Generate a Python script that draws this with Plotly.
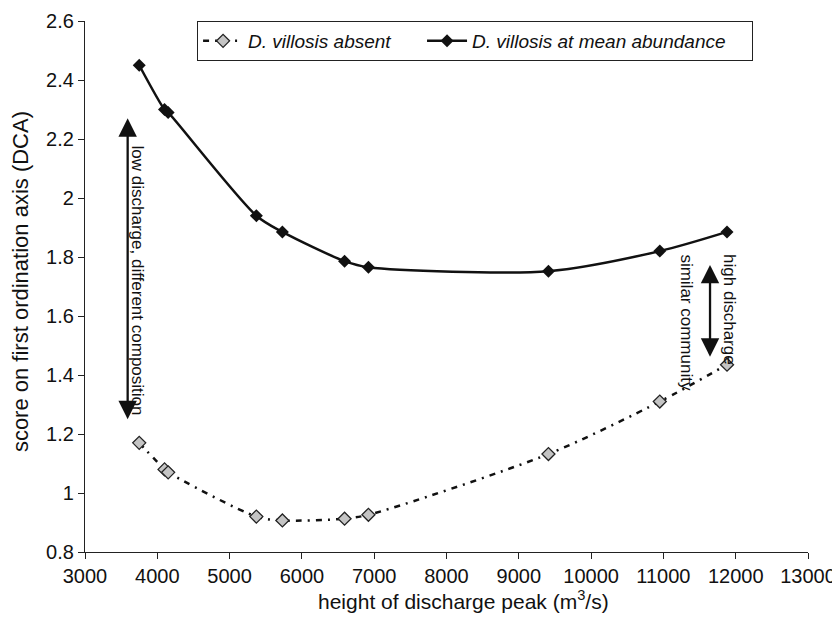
import plotly.graph_objects as go

# ---- data ----
discharge = [3750, 4100, 4150, 5370, 5730, 6590, 6920, 9410, 10950, 11880]
score_absent = [1.17, 1.08, 1.07, 0.92, 0.907, 0.913, 0.926, 1.132, 1.31, 1.435]
score_mean = [2.45, 2.30, 2.29, 1.94, 1.885, 1.786, 1.765, 1.752, 1.82, 1.885]

name_absent = "<i>D. villosis absent</i>" + "\u00a0" * 5
name_mean = "<i>D. villosis at mean abundance</i>" + "\u00a0" * 4

x_ticks = list(range(3000, 13001, 1000))
x_tick_text = [str(v) for v in x_ticks]
y_ticks = [0.8, 1.0, 1.2, 1.4, 1.6, 1.8, 2.0, 2.2, 2.4, 2.6]
y_tick_text = ["0.8", "1", "1.2", "1.4", "1.6", "1.8", "2", "2.2", "2.4", "2.6"]

x_title = "height of discharge peak (m<sup>3</sup>/s)"
y_title = "score on first ordination axis (DCA)"

FONT = "Liberation Sans, Arial, Helvetica, sans-serif"

fig = go.Figure()
fig.add_trace(go.Scatter(
    x=discharge, y=score_absent, name=name_absent, mode="lines+markers",
    line=dict(color="#111111", width=2.5, dash="6px,6px,2px,6px", shape="spline", smoothing=0.8),
    marker=dict(symbol="diamond", size=10, color="#c4c4c4",
                line=dict(color="#222222", width=1.3)),
))
fig.add_trace(go.Scatter(
    x=discharge, y=score_mean, name=name_mean, mode="lines+markers",
    line=dict(color="#111111", width=2.5, shape="spline", smoothing=0.8),
    marker=dict(symbol="diamond", size=10, color="#111111"),
))

# double headed arrows
arrows = [
    (3590, 2.27, 1.245),
    (11645, 1.773, 1.457),
]
for ax_x, y_top, y_bot in arrows:
    fig.add_annotation(
        x=ax_x, y=y_top, ax=ax_x, ay=y_bot, xref="x", yref="y", axref="x", ayref="y",
        text="", showarrow=True, arrowhead=2, arrowside="end+start",
        arrowsize=1.6, arrowwidth=2.3, arrowcolor="#111111",
    )

fig.add_annotation(x=3720, y=1.72, text="low discharge, different composition",
                   showarrow=False, textangle=90,
                   font=dict(family=FONT, size=17, color="#111111"))
fig.add_annotation(x=11326, y=1.575, text="similar community",
                   showarrow=False, textangle=90,
                   font=dict(family=FONT, size=17, color="#111111"))
fig.add_annotation(x=11921, y=1.62, text="high discharge",
                   showarrow=False, textangle=90,
                   font=dict(family=FONT, size=17, color="#111111"))

# axis titles
fig.add_annotation(xref="paper", yref="paper", x=0.524, y=-0.0906,
                   xanchor="center", yanchor="middle", showarrow=False,
                   text=x_title, font=dict(family=FONT, size=21, color="#111111"))
fig.add_annotation(xref="paper", yref="paper", x=-0.09, y=0.51,
                   xanchor="center", yanchor="middle", showarrow=False, textangle=-90,
                   text=y_title, font=dict(family=FONT, size=22, color="#111111"))

fig.update_layout(
    width=840, height=617,
    paper_bgcolor="white", plot_bgcolor="white",
    margin=dict(l=77, r=40, t=13, b=72.5, autoexpand=False),
    font=dict(family=FONT, size=18, color="#111111"),
    showlegend=True,
    legend=dict(
        orientation="h", x=0.155, y=1.0, xanchor="left", yanchor="top",
        bordercolor="#222222", borderwidth=1, bgcolor="white",
        font=dict(family=FONT, size=19, color="#111111"),
        itemwidth=40, tracegroupgap=0,
    ),
    xaxis=dict(
        range=[3000, 13000], tickvals=x_ticks, ticktext=x_tick_text, ticks="outside",
        ticklen=6, automargin=False, ticklabeloverflow="allow",
        tickcolor="#222222", showline=True, linecolor="#222222", linewidth=1.2,
        showgrid=False, zeroline=False,
        tickfont=dict(family=FONT, size=20),
    ),
    yaxis=dict(
        range=[0.8, 2.6], tickvals=y_ticks, ticktext=y_tick_text, ticks="outside",
        ticklen=6, automargin=False, ticklabeloverflow="allow", tickcolor="#222222",
        showline=True, linecolor="#222222", linewidth=1.2, showgrid=False,
        zeroline=False,
        tickfont=dict(family=FONT, size=20),
    ),
)

fig.write_html("out.html")
